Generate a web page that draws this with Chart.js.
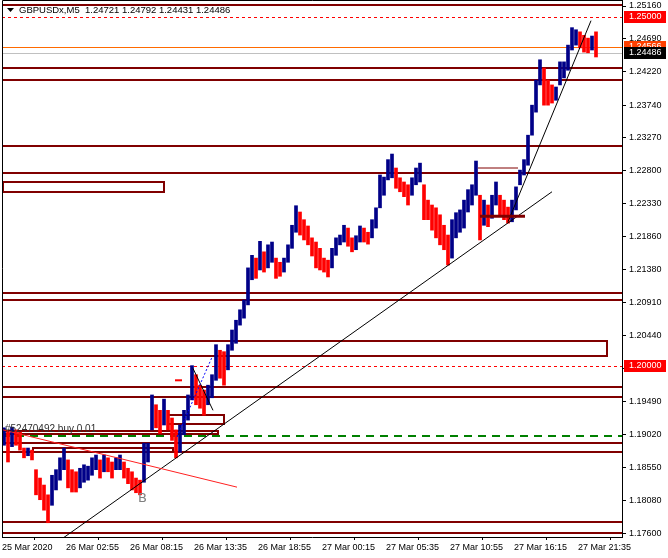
<!DOCTYPE html>
<html>
<head>
<meta charset="utf-8">
<script src="https://cdn.jsdelivr.net/npm/chart.js@4.4.1/dist/chart.umd.min.js"></script>
<style>
html, body { margin: 0; padding: 0; background: #fff; }
canvas { display: block; }
</style>
</head>
<body>
<canvas id="grafico" width="668" height="558"></canvas>
<script>
// GBPUSDx M5 - cada barra aqui junta 4 barras de 5 minutos
const highs = [
  1.1912, 1.1906, 1.1913, 1.1909, 1.1906, 1.1883, 1.1883, 1.1880, 1.1852, 1.1840,
  1.1830, 1.1816, 1.1844, 1.1852, 1.1869, 1.1883, 1.1866, 1.1852, 1.1849, 1.1854,
  1.1859, 1.1857, 1.1869, 1.1873, 1.1866, 1.1873, 1.1869, 1.1863, 1.1869, 1.1873,
  1.1863, 1.1854, 1.1849, 1.1840, 1.1837, 1.1890, 1.1890, 1.1959, 1.1945, 1.1937,
  1.1953, 1.1937, 1.1926, 1.1909, 1.1916, 1.1937, 1.1959, 1.2001, 1.1988, 1.1973,
  1.1966, 1.1973, 1.1988, 1.2031, 1.2023, 1.2021, 1.2031, 1.2052, 1.2066, 1.2081,
  1.2095, 1.2141, 1.2159, 1.2155, 1.2179, 1.2164, 1.2174, 1.2178, 1.2155, 1.2149,
  1.2155, 1.2174, 1.2202, 1.2230, 1.2221, 1.2210, 1.2201, 1.2184, 1.2178, 1.2169,
  1.2155, 1.2152, 1.2169, 1.2184, 1.2188, 1.2202, 1.2198, 1.2184, 1.2187, 1.2201,
  1.2198, 1.2192, 1.2210, 1.2227, 1.2274, 1.2271, 1.2296, 1.2304, 1.2284, 1.2270,
  1.2264, 1.2260, 1.2270, 1.2284, 1.2291, 1.2260, 1.2238, 1.2231, 1.2227, 1.2217,
  1.2202, 1.2188, 1.2210, 1.2220, 1.2224, 1.2238, 1.2253, 1.2260, 1.2294, 1.2245,
  1.2238, 1.2231, 1.2245, 1.2264, 1.2245, 1.2238, 1.2228, 1.2238, 1.2257, 1.2281,
  1.2296, 1.2331, 1.2374, 1.2410, 1.2439, 1.2427, 1.2410, 1.2403, 1.2400, 1.2436,
  1.2436, 1.2460, 1.2485, 1.2482, 1.2479, 1.2474, 1.2470, 1.2473, 1.2479
];
const lows = [
  1.1887, 1.1863, 1.1885, 1.1887, 1.1880, 1.1869, 1.1872, 1.1866, 1.1816, 1.1809,
  1.1794, 1.1776, 1.1801, 1.1823, 1.1837, 1.1852, 1.1826, 1.1820, 1.1820, 1.1826,
  1.1834, 1.1837, 1.1844, 1.1852, 1.1840, 1.1849, 1.1849, 1.1840, 1.1852, 1.1852,
  1.1840, 1.1832, 1.1823, 1.1819, 1.1816, 1.1834, 1.1863, 1.1909, 1.1912, 1.1904,
  1.1916, 1.1909, 1.1894, 1.1869, 1.1877, 1.1902, 1.1923, 1.1952, 1.1945, 1.1940,
  1.1930, 1.1945, 1.1955, 1.1980, 1.1983, 1.1973, 1.1995, 1.2023, 1.2033, 1.2059,
  1.2069, 1.2088, 1.2124, 1.2126, 1.2138, 1.2135, 1.2141, 1.2149, 1.2126, 1.2129,
  1.2135, 1.2149, 1.2169, 1.2192, 1.2188, 1.2181, 1.2174, 1.2158, 1.2141, 1.2138,
  1.2135, 1.2128, 1.2141, 1.2159, 1.2174, 1.2178, 1.2172, 1.2164, 1.2167, 1.2178,
  1.2178, 1.2175, 1.2184, 1.2198, 1.2227, 1.2245, 1.2267, 1.2270, 1.2255, 1.2250,
  1.2243, 1.2231, 1.2245, 1.2260, 1.2264, 1.2210, 1.2210, 1.2195, 1.2184, 1.2174,
  1.2167, 1.2145, 1.2155, 1.2184, 1.2192, 1.2198, 1.2221, 1.2231, 1.2245, 1.2181,
  1.2202, 1.2200, 1.2212, 1.2231, 1.2217, 1.2210, 1.2205, 1.2207, 1.2224, 1.2260,
  1.2274, 1.2288, 1.2331, 1.2364, 1.2403, 1.2374, 1.2374, 1.2377, 1.2381, 1.2403,
  1.2413, 1.2424, 1.2453, 1.2460, 1.2456, 1.2450, 1.2449, 1.2453, 1.2443
];
const priceTicks = [1.25160, 1.24690, 1.24220, 1.23740, 1.23270, 1.22800, 1.22330, 1.21860,
  1.21380, 1.20910, 1.20440, 1.19970, 1.19490, 1.19020, 1.18550, 1.18080, 1.17600];
const timeTicks = ['25 Mar 2020', '26 Mar 02:55', '26 Mar 08:15', '26 Mar 13:35', '26 Mar 18:55',
  '27 Mar 00:15', '27 Mar 05:35', '27 Mar 10:55', '27 Mar 16:15', '27 Mar 21:35'];

// objetos desenhados no grafico (barra, preco)
const levelLines = [1.2517, 1.2427, 1.2410, 1.2316, 1.2277, 1.2105, 1.2095, 1.1970, 1.1956, 1.1890, 1.1877, 1.1777, 1.1761];
const roundLevels = [1.25000, 1.20000];
const boxes = [[1, 162, 1.2264, 1.2249], [0, 605, 1.2036, 1.2015], [166, 222, 1.1930, 1.1917],
  [1, 216, 1.1907, 1.1902], [31, 171, 1.1883, 1.1877]];
const trendLines = [
  { a: [56, 1.1749], b: [550, 1.2250], cor: '#000000', w: 1 },
  { a: [506, 1.2207], b: [589, 1.2495], cor: '#000000', w: 1 },
  { a: [1, 1.1909], b: [235, 1.1827], cor: '#FF2020', w: 1 },
  { a: [191, 1.1997], b: [211, 1.1937], cor: '#000000', w: 1 },
  { a: [175, 1.1899], b: [210, 1.2013], cor: '#0000FF', w: 1, dash: [2, 2] },
  { a: [476, 1.2284], b: [516, 1.2284], cor: '#800000', w: 1 },
  { a: [478, 1.2215], b: [523, 1.2215], cor: '#800000', w: 3 },
  { a: [173, 1.1980], b: [180, 1.1980], cor: '#FF0000', w: 2 }
];
const orderPrice = 1.1900;
const askLine = 1.24566;
const lastPrice = 1.24486;
const header = ['GBPUSDx,M5', '1.24721', '1.24792', '1.24431', '1.24486'];

const familia = "'Liberation Sans', Arial, sans-serif";
const fonte = { family: familia, size: 9 };

const barras = highs.map((h, i) => ({ x: i * 4 + 2, y: [lows[i], h] }));
const mids = highs.map((h, i) => (h + lows[i]) / 2);
const cores = mids.map((m, i) => (i === 0 || m >= mids[i - 1]) ? '#000088' : '#FF0000');

function px(chart, t, p) {
  return [chart.scales.x.getPixelForValue(t), chart.scales.y.getPixelForValue(p)];
}

const objetos = {
  id: 'objetos',
  beforeDatasetsDraw(chart) {
    const ctx = chart.ctx, a = chart.chartArea, y = chart.scales.y;
    ctx.save();
    ctx.beginPath(); ctx.rect(a.left, a.top, a.right - a.left, a.bottom - a.top); ctx.clip();
    ctx.strokeStyle = '#800000'; ctx.lineWidth = 2;
    levelLines.forEach(p => {
      const yy = Math.round(y.getPixelForValue(p));
      ctx.beginPath(); ctx.moveTo(a.left, yy); ctx.lineTo(a.right, yy); ctx.stroke();
    });
    boxes.forEach(b => {
      const [x1, y1] = px(chart, b[0], b[2]);
      const [x2, y2] = px(chart, b[1], b[3]);
      ctx.strokeRect(Math.round(x1), Math.round(y1), Math.round(x2 - x1), Math.round(y2 - y1));
    });
    ctx.lineWidth = 1; ctx.strokeStyle = '#FF0000'; ctx.setLineDash([3, 3]);
    roundLevels.forEach(p => {
      const yy = Math.round(y.getPixelForValue(p)) + 0.5;
      ctx.beginPath(); ctx.moveTo(a.left, yy); ctx.lineTo(a.right, yy); ctx.stroke();
    });
    ctx.setLineDash([]);
    let yy = Math.round(y.getPixelForValue(askLine)) + 0.5;
    ctx.strokeStyle = '#FF6A00';
    ctx.beginPath(); ctx.moveTo(a.left, yy); ctx.lineTo(a.right, yy); ctx.stroke();
    yy = Math.round(y.getPixelForValue(lastPrice)) + 0.5;
    ctx.strokeStyle = '#C0C0C0';
    ctx.beginPath(); ctx.moveTo(a.left, yy); ctx.lineTo(a.right, yy); ctx.stroke();
    yy = Math.round(y.getPixelForValue(orderPrice));
    ctx.strokeStyle = '#008000'; ctx.lineWidth = 2; ctx.setLineDash([8, 6]);
    ctx.beginPath(); ctx.moveTo(a.left, yy); ctx.lineTo(a.right, yy); ctx.stroke();
    ctx.restore();
  },
  afterDatasetsDraw(chart) {
    const ctx = chart.ctx, a = chart.chartArea;
    ctx.save();
    ctx.beginPath(); ctx.rect(a.left, a.top, a.right - a.left, a.bottom - a.top); ctx.clip();
    trendLines.forEach(l => {
      const [x1, y1] = px(chart, l.a[0], l.a[1]);
      const [x2, y2] = px(chart, l.b[0], l.b[1]);
      ctx.strokeStyle = l.cor; ctx.lineWidth = l.w; ctx.setLineDash(l.dash || []);
      ctx.beginPath(); ctx.moveTo(x1, y1); ctx.lineTo(x2, y2); ctx.stroke();
    });
    ctx.setLineDash([]);
    ctx.font = "10px " + familia;
    ctx.textBaseline = 'bottom';
    ctx.fillStyle = '#303030';
    let [tx, ty] = px(chart, 3, 1.1903);
    ctx.fillText('#52470492 buy 0.01', tx, ty);
    ctx.fillStyle = '#808080';
    ctx.font = "13px 'DejaVu Sans', sans-serif";
    ctx.textBaseline = 'top';
    [tx, ty] = px(chart, 136, 1.1820);
    ctx.fillText('B', tx, ty);
    ctx.restore();
  },
  afterDraw(chart) {
    const ctx = chart.ctx, a = chart.chartArea, y = chart.scales.y;
    ctx.save();
    ctx.strokeStyle = '#000'; ctx.lineWidth = 1;
    ctx.beginPath();
    ctx.moveTo(a.left + 0.5, a.bottom); ctx.lineTo(a.left + 0.5, 0.5); ctx.lineTo(a.right, 0.5);
    ctx.stroke();
    // titulo
    ctx.fillStyle = '#000';
    ctx.beginPath(); ctx.moveTo(7, 8); ctx.lineTo(14, 8); ctx.lineTo(10.5, 12); ctx.closePath(); ctx.fill();
    ctx.font = "9.5px " + familia;
    ctx.textBaseline = 'middle';
    ctx.fillText(header[0] + '  ' + header.slice(1).join(' '), 19, 10);
    // etiquetas de preco
    ctx.font = "9px " + familia;
    const etiqueta = (p, bg) => {
      const yy = Math.round(y.getPixelForValue(p));
      ctx.fillStyle = bg;
      ctx.fillRect(a.right + 2, yy - 6, 42, 12);
      ctx.fillStyle = '#FFFFFF';
      ctx.fillText(p.toFixed(5), a.right + 7, yy);
    };
    etiqueta(roundLevels[0], '#FF0000');
    etiqueta(askLine, '#FF4000');
    etiqueta(lastPrice, '#000000');
    etiqueta(roundLevels[1], '#FF0000');
    ctx.restore();
  }
};

new Chart(document.getElementById('grafico'), {
  type: 'bar',
  data: {
    datasets: [{
      data: barras,
      backgroundColor: cores,
      barThickness: 3,
      borderWidth: 0
    }]
  },
  options: {
    responsive: false,
    animation: false,
    devicePixelRatio: 1,
    layout: { padding: { left: 2, top: 0, right: 0, bottom: 0 } },
    plugins: { legend: { display: false }, tooltip: { enabled: false } },
    scales: {
      x: {
        type: 'linear', min: 0, max: 620, offset: false,
        grid: { drawOnChartArea: false, tickLength: 3, color: '#000' },
        border: { color: '#000' },
        ticks: { font: fonte, color: '#000', align: 'start', padding: 2, maxRotation: 0, autoSkip: false,
          callback: v => timeTicks[Math.round(v / 64)] },
        afterBuildTicks: s => { s.ticks = timeTicks.map((_, i) => ({ value: i * 64 })); },
        afterFit: s => { s.height = 21; s.paddingLeft = 0; s.paddingRight = 0; }
      },
      y: {
        type: 'linear', position: 'right', min: 1.17556, max: 1.25246,
        grid: { drawOnChartArea: false, tickLength: 4, color: '#000' },
        border: { color: '#000' },
        ticks: { font: fonte, color: '#000', padding: 3, callback: v => v.toFixed(5) },
        afterBuildTicks: s => { s.ticks = priceTicks.map(v => ({ value: v })); },
        afterFit: s => { s.width = 46; s.paddingTop = 0; s.paddingBottom = 0; }
      }
    }
  },
  plugins: [objetos]
});
</script>
</body>
</html>
